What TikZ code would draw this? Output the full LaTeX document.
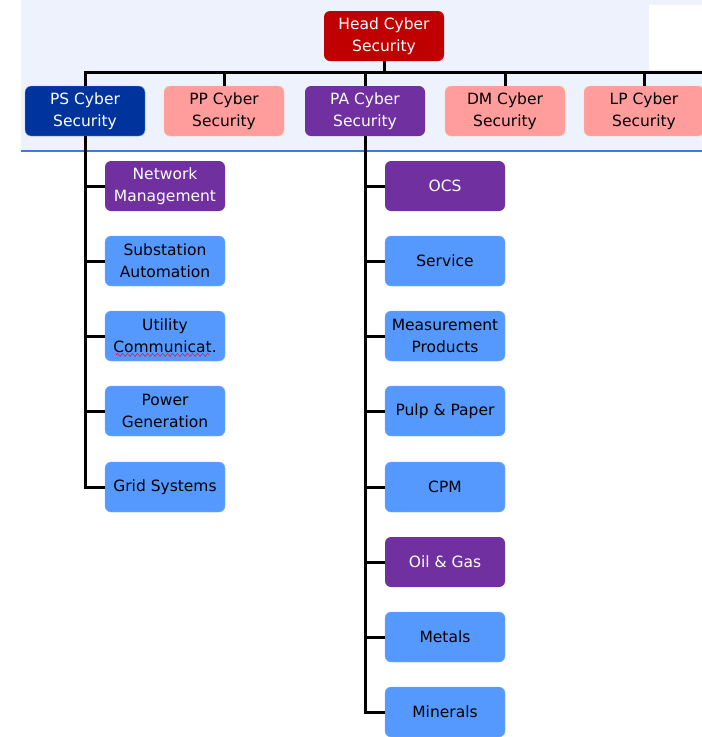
\documentclass[tikz,border=0pt]{standalone}
\usepackage{fontspec}
\setmainfont{DejaVu Sans}
\usetikzlibrary{positioning,decorations.pathmorphing}
\definecolor{headred}{HTML}{C00000}
\definecolor{psblue}{HTML}{00339C}
\definecolor{unitpink}{HTML}{FF9C9C}
\definecolor{pinkedge}{HTML}{FFC890}
\definecolor{unitpurple}{HTML}{7030A0}
\definecolor{kidblue}{HTML}{5599FF}
\definecolor{kidedge}{HTML}{77B0FF}
\definecolor{bandfill}{HTML}{EEF2FC}
\definecolor{bandline}{HTML}{3A7BDB}

\begin{document}
\begin{tikzpicture}[x=1pt,y=-1pt,
    box/.style={rounded corners=6pt, minimum width=120pt, minimum height=50pt,
      align=center, inner sep=0pt, font=\fontsize{15.5}{22}\selectfont},
    headbox/.style={box, fill=headred, text=white},
    darkbox/.style={box, fill=psblue, draw=kidedge, text=white},
    pinkbox/.style={box, fill=unitpink, draw=pinkedge, text=black},
    purplebox/.style={box, fill=unitpurple, text=white},
    kidbox/.style={box, fill=kidblue, draw=kidedge, text=black},
    link/.style={line width=3pt}]
    \useasboundingbox (0,0) rectangle (702,737);
    % Draw the top band
    \fill[bandfill] (21,0) rectangle (702,151);
    \fill[white] (649,5) rectangle (702,70);
    \draw[bandline, line width=1.5pt] (21,151) -- (702,151);
    % Draw the head and the units
    \node[headbox] (head) at (384,36) {Head Cyber\\Security};
    \node[darkbox] (ps) at (85,111) {PS Cyber\\Security};
    \node[pinkbox] (pp) at (224,111) {PP Cyber\\Security};
    \node[purplebox] (pa) at (365,111) {PA Cyber\\Security};
    \node[pinkbox] (dm) at (505,111) {DM Cyber\\Security};
    \node[pinkbox] (lp) at (644,111) {LP Cyber\\Security};
    \coordinate (busend) at (702,72);
    % Draw the bus from the head to the units
    \draw[link] (head.south) -- (head.south |- busend);
    \draw[link] (ps.north) |- (busend);
    \foreach \u in {pp, pa, dm, lp} {
        \draw[link] (\u.north) -- (\u.north |- busend);
    }
    % Draw the PS groups
    \node[purplebox] (netman) at (165,186) {Network\\Management};
    \node[kidbox] (subst) at (165,261) {Substation\\Automation};
    \node[kidbox] (util) at (165,336) {Utility\\Communicat.};
    \node[kidbox] (power) at (165,411) {Power\\Generation};
    \node[kidbox] (grid) at (165,487) {Grid Systems};
    \foreach \k in {netman, subst, util, power, grid} {
        \draw[link] (ps.south) |- (\k.west);
    }
    \draw[red, decorate, decoration={snake, amplitude=1.5pt, segment length=5pt}]
        (116,355) -- (210,355);
    % Draw the PA groups
    \node[purplebox] (ocs) at (445,186) {OCS};
    \node[kidbox] (service) at (445,261) {Service};
    \node[kidbox] (measure) at (445,336) {Measurement\\Products};
    \node[kidbox] (pulp) at (445,411) {Pulp \& Paper};
    \node[kidbox] (cpm) at (445,487) {CPM};
    \node[purplebox] (oil) at (445,562) {Oil \& Gas};
    \node[kidbox] (metals) at (445,637) {Metals};
    \node[kidbox] (minerals) at (445,712) {Minerals};
    \foreach \k in {ocs, service, measure, pulp, cpm, oil, metals, minerals} {
        \draw[link] (pa.south) |- (\k.west);
    }
\end{tikzpicture}
\end{document}
